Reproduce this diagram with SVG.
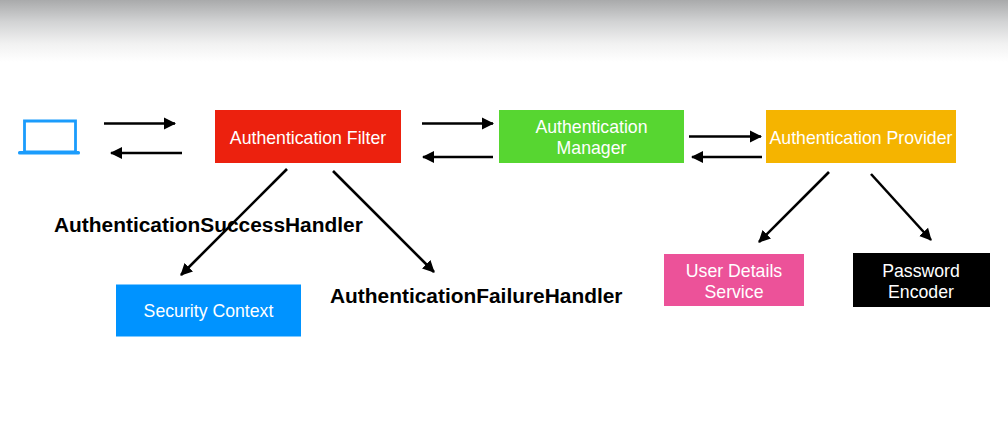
<svg xmlns="http://www.w3.org/2000/svg" width="1008" height="446" viewBox="0 0 1008 446">
<style>
.l{fill:#fff;font:17.700px "Liberation Sans",Arial,sans-serif;text-anchor:middle}
.b{fill:#000;font:bold 20.900px "Liberation Sans",Arial,sans-serif}
.c{fill:none;stroke:#000;stroke-width:2.600;marker-end:url(#a)}
</style>
<defs>
<linearGradient id="g" x1="0" y1="0" x2="0" y2="1"><stop offset="0" stop-color="#a9aaab"/><stop offset=".35" stop-color="#d2d3d4"/><stop offset=".7" stop-color="#f1f1f1"/><stop offset="1" stop-color="#fff"/></linearGradient>
<marker id="a" markerUnits="userSpaceOnUse" markerWidth="14" markerHeight="14" refX="11" refY="7" orient="auto"><path d="M0 1L12 7L0 13z" fill="#000"/></marker>
</defs>
<rect width="1008" height="446" fill="#fff"/>
<rect id="shade" width="1008" height="62" fill="url(#g)"/>
<g id="connectors">
<path class="c" d="M104 123.500H175"/>
<path class="c" d="M182 153H111"/>
<path class="c" d="M422 123.500H493"/>
<path class="c" d="M493 157H423"/>
<path class="c" d="M689 136.500H761"/>
<path class="c" d="M762 157H692"/>
<path class="c" d="M287 169L181 275"/>
<path class="c" d="M333 171L434 272"/>
<path class="c" d="M829 172L759 242"/>
<path class="c" d="M871 174L931 240"/>
</g>
<g id="client"><path d="M24.500 121H75.500V152H24.500Z" fill="none" stroke="#1b9cfc" stroke-width="2.800"/><rect x="18" y="151" width="62" height="3.500" rx="1.500" fill="#1b9cfc"/></g>
<g id="authentication-filter"><rect x="215" y="110" width="186" height="53" fill="#ec210e"/><text class="l" x="308" y="143.500">Authentication Filter</text></g>
<g id="authentication-manager"><rect x="499" y="110" width="185" height="53" fill="#57d631"/><text class="l" x="591.500" y="132.500">Authentication</text><text class="l" x="591.500" y="153.500">Manager</text></g>
<g id="authentication-provider"><rect x="766" y="110" width="190" height="53" fill="#f5b400"/><text class="l" x="861" y="143.500">Authentication Provider</text></g>
<g id="user-details-service"><rect x="664" y="254" width="140" height="52" fill="#ec5299"/><text class="l" x="734" y="276.500">User Details</text><text class="l" x="734" y="297.500">Service</text></g>
<g id="password-encoder"><rect x="853" y="253" width="137" height="54" fill="#000"/><text class="l" x="921" y="277">Password</text><text class="l" x="921" y="298">Encoder</text></g>
<g id="security-context"><rect x="116" y="284.500" width="185" height="52" fill="#0093ff"/><text class="l" x="208.500" y="317">Security Context</text></g>
<g id="success-handler"><text class="b" x="54" y="232">AuthenticationSuccessHandler</text></g>
<g id="failure-handler"><text class="b" x="330" y="303">AuthenticationFailureHandler</text></g>
</svg>
